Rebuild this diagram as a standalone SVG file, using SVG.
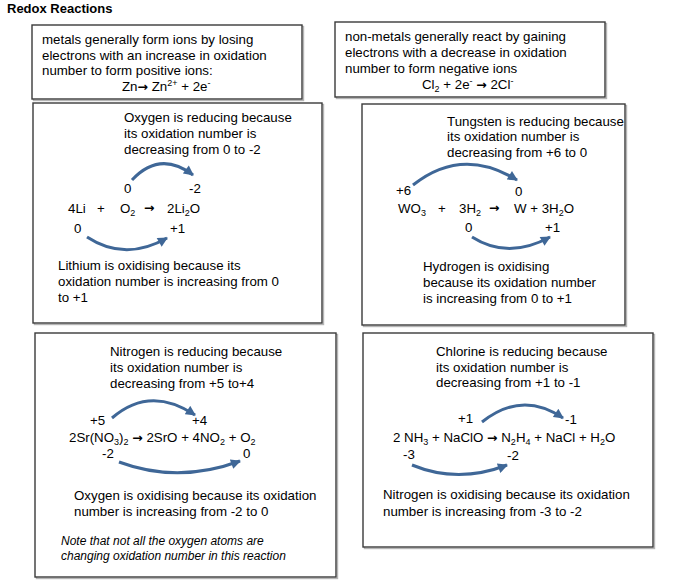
<svg xmlns="http://www.w3.org/2000/svg" width="678" height="583" viewBox="0 0 678 583">
<defs>
<marker id="ah" viewBox="0 0 10 10" refX="9" refY="5" markerWidth="11" markerHeight="10" markerUnits="userSpaceOnUse" orient="auto">
<path d="M0,0 L10,5 L0,10 z" fill="#3f6797"/>
</marker>
<style>
.t{font-family:"Liberation Sans",Arial,sans-serif;font-size:13.3px;fill:#000}
.ti{font-family:"Liberation Sans",Arial,sans-serif;font-size:12px;font-style:italic;fill:#000}
.h{font-family:"Liberation Sans",Arial,sans-serif;font-size:13px;font-weight:bold;fill:#000}
.ar{font-family:"DejaVu Sans",sans-serif;font-size:12.5px;font-weight:bold}
.box{fill:#fff;stroke:#3a3a3a;stroke-width:1.4}
.sh{fill:none;stroke:#b5b5b5;stroke-width:1.4}
.c{fill:none;stroke:#3f6797;stroke-width:3;marker-end:url(#ah)}
</style>
</defs>
<rect width="678" height="583" fill="#fff"/>
<text class="h" x="7" y="13">Redox Reactions</text>

<g id="metals">
<rect class="sh" x="33.5" y="26.5" width="270" height="74"/>
<rect class="box" x="32" y="25" width="270" height="74"/>
<text class="t" x="42" y="44">metals generally form ions by losing</text>
<text class="t" x="42" y="60">electrons with an increase in oxidation</text>
<text class="t" x="42" y="75">number to form positive ions:</text>
<text class="t" x="122" y="91">Zn<tspan class="ar">→</tspan> Zn<tspan font-size="9" dy="-5">2+</tspan><tspan dy="5"> + 2e</tspan><tspan font-size="9" dy="-5">-</tspan></text>
</g>

<g id="nonmetals">
<rect class="sh" x="336.5" y="23.5" width="270" height="75"/>
<rect class="box" x="335" y="22" width="270" height="75"/>
<text class="t" x="345" y="41">non-metals generally react by gaining</text>
<text class="t" x="345" y="57">electrons with a decrease in oxidation</text>
<text class="t" x="345" y="73">number to form negative ions</text>
<text class="t" x="422" y="89">Cl<tspan font-size="9" dy="3">2</tspan><tspan dy="-3"> + 2e</tspan><tspan font-size="9" dy="-5">-</tspan><tspan dy="5">  </tspan><tspan class="ar">→</tspan> 2Cl<tspan font-size="9" dy="-5">-</tspan></text>
</g>

<g id="lithium">
<rect class="sh" x="34.5" y="104.5" width="289" height="220"/>
<rect class="box" x="33" y="103" width="289" height="220"/>
<text class="t" x="124" y="122">Oxygen is reducing because</text>
<text class="t" x="124" y="138">its oxidation number is</text>
<text class="t" x="124" y="154">decreasing from 0 to -2</text>
<text class="t" x="124" y="193">0</text>
<text class="t" x="189" y="193">-2</text>
<text class="t" x="68" y="213">4Li</text>
<text class="t" x="97" y="213">+</text>
<text class="t" x="120" y="213">O<tspan font-size="9" dy="3">2</tspan></text>
<text class="ar" x="144" y="212">→</text>
<text class="t" x="167" y="213">2Li<tspan font-size="9" dy="3">2</tspan><tspan dy="-3">O</tspan></text>
<text class="t" x="74" y="233">0</text>
<text class="t" x="170" y="233">+1</text>
<text class="t" x="58" y="270">Lithium is oxidising because its</text>
<text class="t" x="58" y="286">oxidation number is increasing from 0</text>
<text class="t" x="58" y="302">to +1</text>
</g>

<g id="tungsten">
<rect class="sh" x="363.5" y="105.5" width="263" height="221"/>
<rect class="box" x="362" y="104" width="263" height="221"/>
<text class="t" x="447" y="126">Tungsten is reducing because</text>
<text class="t" x="447" y="141">its oxidation number is</text>
<text class="t" x="447" y="157">decreasing from +6 to 0</text>
<text class="t" x="396" y="195">+6</text>
<text class="t" x="515" y="196">0</text>
<text class="t" x="398" y="213">WO<tspan font-size="9" dy="3">3</tspan></text>
<text class="t" x="438" y="213">+</text>
<text class="t" x="459" y="213">3H<tspan font-size="9" dy="3">2</tspan></text>
<text class="ar" x="489" y="212">→</text>
<text class="t" x="514" y="213">W + 3H<tspan font-size="9" dy="3">2</tspan><tspan dy="-3">O</tspan></text>
<text class="t" x="465" y="232">0</text>
<text class="t" x="545" y="232">+1</text>
<text class="t" x="423" y="271">Hydrogen is oxidising</text>
<text class="t" x="423" y="287">because its oxidation number</text>
<text class="t" x="423" y="303">is increasing from 0 to +1</text>
</g>

<g id="strontium">
<rect class="sh" x="36.5" y="334.5" width="301" height="244"/>
<rect class="box" x="35" y="333" width="301" height="244"/>
<text class="t" x="110" y="356">Nitrogen is reducing because</text>
<text class="t" x="110" y="372">its oxidation number is</text>
<text class="t" x="110" y="388">decreasing from +5 to+4</text>
<text class="t" x="90" y="425">+5</text>
<text class="t" x="192" y="425">+4</text>
<text class="t" x="69" y="442">2Sr(NO<tspan font-size="9" dy="3">3</tspan><tspan dy="-3">)</tspan><tspan font-size="9" dy="3">2</tspan><tspan dy="-3"> </tspan><tspan class="ar">→</tspan> 2SrO + 4NO<tspan font-size="9" dy="3">2</tspan><tspan dy="-3"> + O</tspan><tspan font-size="9" dy="3">2</tspan></text>
<text class="t" x="102" y="458">-2</text>
<text class="t" x="243" y="458">0</text>
<text class="t" x="74" y="500">Oxygen is oxidising because its oxidation</text>
<text class="t" x="74" y="516">number is increasing from -2 to 0</text>
<text class="ti" x="61" y="545">Note that not all the oxygen atoms are</text>
<text class="ti" x="61" y="560">changing oxidation number in this reaction</text>
</g>

<g id="chlorine">
<rect class="sh" x="364.5" y="334.5" width="290" height="214"/>
<rect class="box" x="363" y="333" width="290" height="214"/>
<text class="t" x="436" y="356">Chlorine is reducing because</text>
<text class="t" x="436" y="372">its oxidation number is</text>
<text class="t" x="436" y="387">decreasing from +1 to -1</text>
<text class="t" x="458" y="423">+1</text>
<text class="t" x="565" y="424">-1</text>
<text class="t" x="393" y="442">2 NH<tspan font-size="9" dy="3">3</tspan><tspan dy="-3"> + NaClO </tspan><tspan class="ar">→</tspan> N<tspan font-size="9" dy="3">2</tspan><tspan dy="-3">H</tspan><tspan font-size="9" dy="3">4</tspan><tspan dy="-3"> + NaCl + H</tspan><tspan font-size="9" dy="3">2</tspan><tspan dy="-3">O</tspan></text>
<text class="t" x="403" y="459">-3</text>
<text class="t" x="507" y="460">-2</text>
<text class="t" x="383" y="499">Nitrogen is oxidising because its oxidation</text>
<text class="t" x="383" y="516">number is increasing from -3 to -2</text>
</g>

<g id="connectors">
<path class="c" d="M132,180 Q160,150 193,175"/>
<path class="c" d="M87,237 Q125,262 167,238"/>
<path class="c" d="M413,185 Q462,146 517,180"/>
<path class="c" d="M472,237 Q508,260 550,237"/>
<path class="c" d="M112,418 Q150,385 195,415"/>
<path class="c" d="M119,462 Q178,484 240,461"/>
<path class="c" d="M482,422 Q522,390 563,418"/>
<path class="c" d="M412,465 Q458,484 507,465"/>
</g>
</svg>
